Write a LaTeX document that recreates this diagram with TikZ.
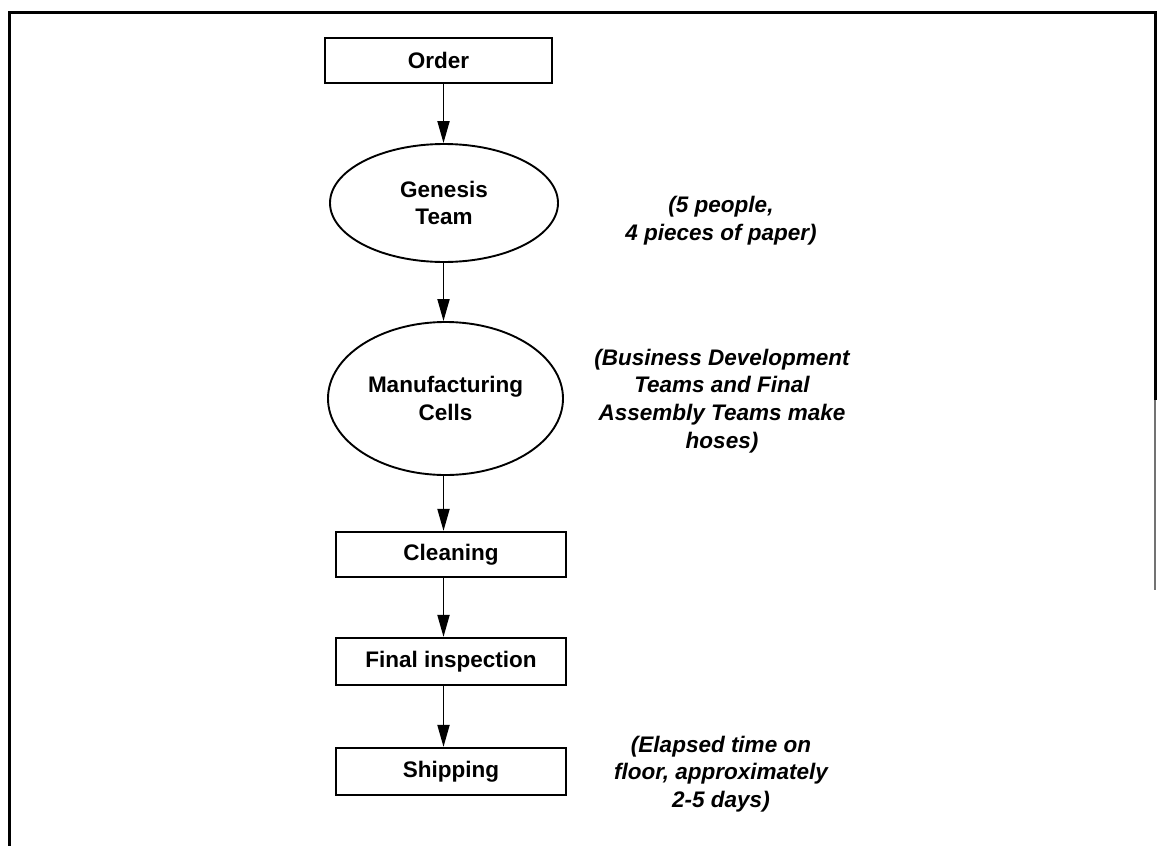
\documentclass[tikz,border=0pt]{standalone}
\usepackage{fontspec}
\setmainfont{Liberation Sans}
\usetikzlibrary{shapes.geometric,arrows.meta}

\tikzset{
  stepbox/.style={draw, line width=2.2pt, rectangle, inner sep=0pt,
    minimum width=230pt, minimum height=46pt,
    font=\fontsize{22.5}{27}\selectfont\bfseries, align=center},
  stepoval/.style={draw, line width=1.9pt, ellipse, inner sep=0pt,
    font=\fontsize{22.5}{27.5}\selectfont\bfseries, align=center},
  flow/.style={line width=1.9pt, -{Triangle[length=22pt, width=12pt]}},
  remark/.style={inner sep=0pt, align=center,
    font=\fontsize{22.5}{27.8}\selectfont\bfseries\itshape},
  frame/.style={line width=3pt, line join=miter, line cap=butt}
}

\begin{document}
\begin{tikzpicture}[x=1pt, y=-1pt]
  \useasboundingbox (0,0) rectangle (1157,846);

  % outer frame, open at the bottom
  \coordinate (fbl) at (9,846);
  \coordinate (ftl) at (9,12);
  \coordinate (ftr) at (1155,12);
  \coordinate (fr1) at (1155,400);
  \coordinate (fr2) at (1155,590);
  \draw[frame] (fbl) -- (ftl) -- (ftr) -- (fr1);
  \draw[line width=2pt, black!55] (fr1) -- (fr2);

  % process steps
  \node[stepbox, minimum width=227pt, minimum height=45pt] (order) at (438.5,60.5) {Order};
  \node[stepoval, minimum width=228pt, minimum height=118pt] (genesis) at (444,203) {Genesis\\Team};
  \node[stepoval, minimum width=235pt, minimum height=153pt] (manuf) at (445.5,398.5) {Manufacturing\\Cells};
  \node[stepbox, minimum height=45pt] (cleaning) at (451,554.5) {Cleaning};
  \node[stepbox, minimum height=47pt] (inspect) at (451,661.5) {Final inspection};
  \node[stepbox, minimum height=47pt] (shipping) at (451,771.5) {Shipping};

  % vertical line on which the arrows run
  \coordinate (ax) at (443.5,0);

  \draw[flow] (order.south -| ax) -- (genesis.north -| ax);
  \draw[flow] (genesis.south -| ax) -- (manuf.north -| ax);
  \draw[flow] (manuf.south -| ax) -- (cleaning.north -| ax);
  \draw[flow] (cleaning.south -| ax) -- (inspect.north -| ax);
  \draw[flow] (inspect.south -| ax) -- (shipping.north -| ax);

  % side remarks
  \node[remark] (r1) at (721,221) {(5 people,\\4 pieces of paper)};
  \node[remark] (r2) at (722,401) {(Business Development\\Teams and Final\\Assembly Teams make\\hoses)};
  \node[remark] (r3) at (721,774) {(Elapsed time on\\floor, approximately\\2-5 days)};
\end{tikzpicture}
\end{document}
